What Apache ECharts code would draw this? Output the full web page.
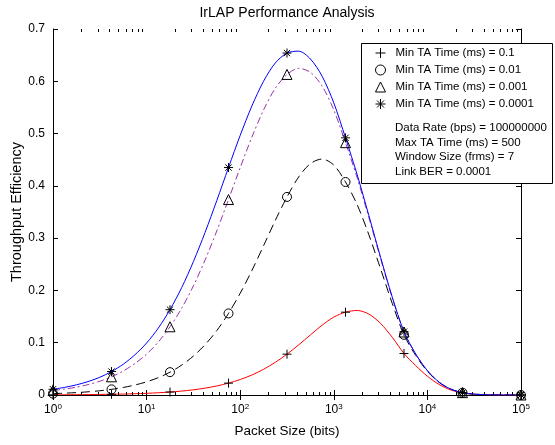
<!DOCTYPE html>
<html>
<head>
<meta charset="utf-8">
<script src="https://cdn.jsdelivr.net/npm/echarts@6/dist/echarts.min.js"></script>
<style>html,body{margin:0;padding:0;background:#fff}#c{width:555px;height:445px}</style>
</head>
<body>
<div id="c"></div>
<script>
// Packet sizes (bits), log-spaced
const packetSizes = [1, 1.334, 1.778, 2.371, 3.162, 4.217, 5.623, 7.499, 10, 13.34, 17.78, 23.71, 31.62, 42.17, 56.23, 74.99, 100, 133.4, 177.8, 237.1, 316.2, 421.7, 562.3, 749.9, 1000, 1334, 1778, 2371, 3162, 4217, 5623, 7499, 10000, 13340, 17780, 23710, 31620, 42170, 56230, 74990, 100000];
// indices of packet sizes that carry markers
const markerIndex = [0, 5, 10, 15, 20, 25, 30, 35, 40];

const eff_01 = [0.0003,0.0004,0.0006,0.0008,0.0010,0.0014,0.0018,0.0024,0.0032,0.0043,0.0057,0.0075,0.0099,0.0131,0.0173,0.0227,0.0296,0.0383,0.0492,0.0625,0.0781,0.0959,0.1149,0.1335,0.1490,0.1584,0.1617,0.1547,0.1369,0.1103,0.0794,0.0563,0.0359,0.0201,0.0097,0.0040,0.0015,0.0005,0.0001,0,0];
const eff_001 = [0.0026,0.0035,0.0046,0.0061,0.0081,0.0108,0.0144,0.0191,0.0252,0.0332,0.0437,0.0572,0.0745,0.0963,0.1232,0.1560,0.1946,0.2382,0.2856,0.3339,0.3788,0.4171,0.4425,0.4513,0.4397,0.4074,0.3638,0.3063,0.2412,0.1750,0.1151,0.0756,0.0453,0.0240,0.0112,0.0044,0.0017,0.0005,0.0001,0,0];
const eff_0001 = [0.0085,0.0113,0.0150,0.0199,0.0263,0.0348,0.0459,0.0602,0.0782,0.1014,0.1305,0.1660,0.2087,0.2583,0.3139,0.3738,0.4348,0.4933,0.5453,0.5866,0.6131,0.6247,0.6171,0.5908,0.5452,0.4826,0.4152,0.3393,0.2609,0.1858,0.1205,0.0783,0.0465,0.0245,0.0113,0.0045,0.0017,0.0005,0.0001,0,0];
const eff_00001 = [0.0110,0.0146,0.0194,0.0257,0.0339,0.0448,0.0588,0.0769,0.0994,0.1280,0.1632,0.2054,0.2551,0.3111,0.3719,0.4350,0.4966,0.5529,0.6002,0.6350,0.6540,0.6576,0.6426,0.6098,0.5587,0.4918,0.4212,0.3430,0.2631,0.1870,0.1211,0.0785,0.0466,0.0245,0.0113,0.0045,0.0017,0.0005,0.0001,0,0];

const seriesNames = ['Min TA Time (ms) = 0.1', 'Min TA Time (ms) = 0.01', 'Min TA Time (ms) = 0.001', 'Min TA Time (ms) = 0.0001'];
const infoLines = ['Data Rate (bps) = 100000000', 'Max TA Time (ms) = 500', 'Window Size (frms) = 7', 'Link BER = 0.0001'];
const minorTicks = [2,3,4,5,6,7,8,9,20,30,40,50,60,70,80,90,200,300,400,500,600,700,800,900,2000,3000,4000,5000,6000,7000,8000,9000,20000,30000,40000,50000,60000,70000,80000,90000];

const FONT = '"Liberation Sans", Arial, Helvetica, sans-serif';
const chart = echarts.init(document.getElementById('c'), null, {renderer: 'canvas'});

const plus = 'path://M0,5L10,5M5,0L5,10';
const star = 'path://M0,5L10,5M5,0L5,10M1.5,1.5L8.5,8.5M1.5,8.5L8.5,1.5';

function pts(vals) { return packetSizes.map((x, i) => [x, vals[i]]); }
function marks(vals) { return markerIndex.map(i => [packetSizes[i], vals[i]]); }

const curves = [
  {vals: eff_01, color: '#ff0000', dash: 'solid', symbol: plus, size: 9},
  {vals: eff_001, color: '#000000', dash: [9, 5], symbol: 'circle', size: 9},
  {vals: eff_0001, color: '#9a32a8', dash: [7, 3, 2, 3], symbol: 'triangle', size: 10},
  {vals: eff_00001, color: '#0000ff', dash: 'solid', symbol: star, size: 9}
];

const markerStyle = {color: 'rgba(0,0,0,0)', borderColor: '#000', borderWidth: 1, opacity: 1};

const series = [];
curves.forEach((c, k) => {
  series.push({
    type: 'line', name: 'curve' + k, data: pts(c.vals), showSymbol: false, smooth: 0.3,
    lineStyle: {color: c.color, width: 1, type: c.dash}, z: 2, silent: true, animation: false
  });
});
curves.forEach((c, k) => {
  series.push({
    type: 'scatter', name: seriesNames[k], data: marks(c.vals), symbol: c.symbol, symbolSize: c.size,
    itemStyle: markerStyle, z: 3, clip: false, silent: true, animation: false
  });
});
series.push({
  type: 'custom', name: 'minor', data: minorTicks.map(v => [v, 0]), encode: {x: 0, y: 1},
  clip: false, silent: true, animation: false, z: 4,
  renderItem: function (params, api) {
    const x = api.value(0);
    const b = api.coord([x, 0]);
    const t = api.coord([x, 0.7]);
    const px = Math.round(b[0]) + 0.5;
    const st = {stroke: '#000', lineWidth: 1};
    return {type: 'group', children: [
      {type: 'line', shape: {x1: px, y1: b[1], x2: px, y2: b[1] - 3}, style: st},
      {type: 'line', shape: {x1: px, y1: t[1], x2: px, y2: t[1] + 3}, style: st}
    ]};
  }
});

const xLabel = {
  show: true, margin: 8, color: '#000', fontFamily: FONT,
  formatter: v => '{b|10}{s|' + Math.round(Math.log10(v)) + '}',
  rich: {b: {fontSize: 12, fontFamily: FONT, color: '#000'}, s: {fontSize: 8, fontFamily: FONT, color: '#000', verticalAlign: 'top', padding: [0, 0, 6, 0]}}
};

const option = {
  backgroundColor: '#fff',
  animation: false,
  title: {
    text: 'IrLAP Performance Analysis', left: 287, top: 6, textAlign: 'center', padding: 0,
    textStyle: {fontSize: 14, fontWeight: 'normal', color: '#000', fontFamily: FONT}
  },
  grid: {left: 53, right: 34, top: 29, bottom: 50, containLabel: false, outerBoundsMode: 'none'},
  xAxis: [{
    type: 'log', logBase: 10, min: 1, max: 100000, splitNumber: 5,
    name: 'Packet Size (bits)', nameLocation: 'middle', nameGap: 29, nameMoveOverlap: false,
    nameTextStyle: {fontSize: 13.5, color: '#000', fontFamily: FONT},
    axisLine: {lineStyle: {color: '#000', width: 1}},
    axisTick: {inside: true, length: 5, lineStyle: {color: '#000'}},
    axisLabel: xLabel, splitLine: {show: false}, minorTick: {show: false}
  }, {
    type: 'log', logBase: 10, min: 1, max: 100000, splitNumber: 5, position: 'top',
    axisLine: {lineStyle: {color: '#000', width: 1}},
    axisTick: {inside: true, length: 5, lineStyle: {color: '#000'}},
    axisLabel: {show: false}, splitLine: {show: false}
  }],
  yAxis: [{
    type: 'value', min: 0, max: 0.7, interval: 0.1,
    name: 'Throughput Efficiency', nameLocation: 'middle', nameGap: 29, nameMoveOverlap: false,
    nameTextStyle: {fontSize: 14.5, color: '#000', fontFamily: FONT},
    axisLine: {show: true, lineStyle: {color: '#000', width: 1}},
    axisTick: {show: true, inside: true, length: 5, lineStyle: {color: '#000'}},
    axisLabel: {margin: 8, fontSize: 12, color: '#000', fontFamily: FONT, formatter: v => v === 0 ? '0' : v.toFixed(1)},
    splitLine: {show: false}
  }, {
    type: 'value', min: 0, max: 0.7, interval: 0.1, position: 'right',
    axisLine: {show: true, lineStyle: {color: '#000', width: 1}},
    axisTick: {show: true, inside: true, length: 5, lineStyle: {color: '#000'}},
    axisLabel: {show: false}, splitLine: {show: false}
  }],
  legend: {
    data: seriesNames, orient: 'vertical', left: 375, top: 47, padding: 0,
    itemWidth: 10, itemHeight: 10, itemGap: 5, selectedMode: false,
    itemStyle: {color: 'rgba(0,0,0,0)', borderColor: '#000', borderWidth: 1},
    textStyle: {fontSize: 11.5, color: '#000', fontFamily: FONT, padding: [0, 0, 0, 5]}, z: 6
  },
  graphic: [
    {type: 'rect', shape: {x: 361.5, y: 43.5, width: 191, height: 140}, style: {fill: '#fff', stroke: '#000', lineWidth: 1}, z: 5}
  ].concat(infoLines.map((t, i) => ({
    type: 'text', x: 395, y: [128, 143, 157, 172][i], z: 7,
    style: {text: t, fill: '#000', font: '11.5px ' + FONT, textVerticalAlign: 'middle'}
  }))),
  series: series
};
chart.setOption(option);
</script>
</body>
</html>
